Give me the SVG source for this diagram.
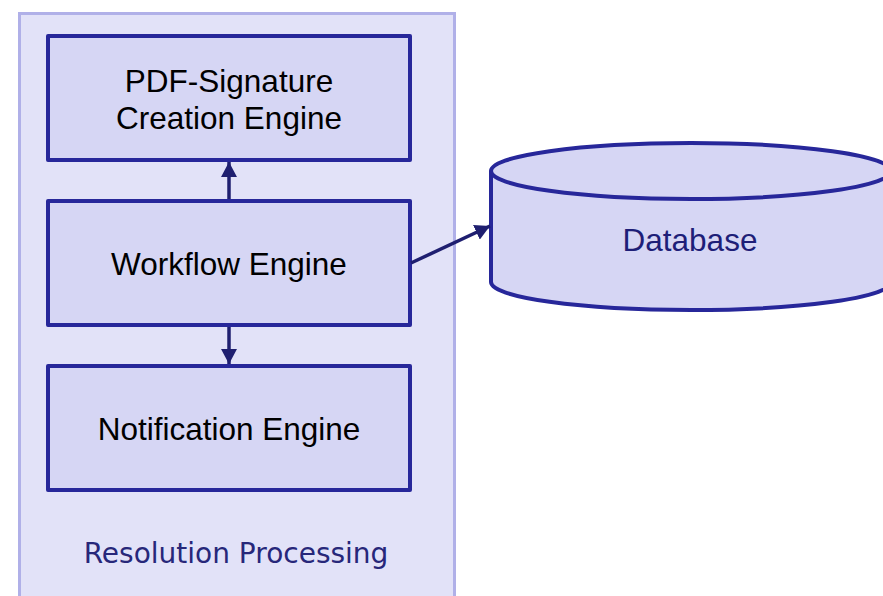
<svg xmlns="http://www.w3.org/2000/svg" width="883" height="596" viewBox="0 0 883 596">
<style>
.box{fill:#d6d6f4;stroke:#27279a;stroke-width:4;stroke-linejoin:round}
.t{font-family:"Liberation Sans",Arial,sans-serif;font-size:31.5px;fill:#000;text-anchor:middle}
.conn{stroke:#1f1f70;stroke-width:3.5;fill:none}
</style>
<defs>
<marker id="ah" markerWidth="15" markerHeight="16" refX="15" refY="8" orient="auto" markerUnits="userSpaceOnUse">
<path d="M0,0 L15,8 L0,16 z" fill="#1f1f70"/>
</marker>
</defs>
<rect width="883" height="596" fill="#fff"/>
<g id="container">
<rect x="19.5" y="13.5" width="435" height="600" fill="#e2e2f8" stroke="#b0b0e8" stroke-width="3"/>
<text x="236" y="563" font-family="'DejaVu Sans',Verdana,sans-serif" font-size="28" fill="#27277a" text-anchor="middle">Resolution Processing</text>
</g>
<g id="pdf">
<rect class="box" x="48" y="36" width="362" height="124"/>
<text class="t" x="229" y="92">PDF-Signature</text>
<text class="t" x="229" y="129">Creation Engine</text>
</g>
<g id="workflow">
<rect class="box" x="48" y="201" width="362" height="124"/>
<text class="t" x="229" y="275">Workflow Engine</text>
</g>
<g id="notification">
<rect class="box" x="48" y="366" width="362" height="124"/>
<text class="t" x="229" y="440">Notification Engine</text>
</g>
<g id="database">
<path d="M491,171 L491,282 A200,28 0 0 0 891,282 L891,171 A200,28 0 0 0 491,171 Z" fill="#d6d6f4" stroke="#27279a" stroke-width="4"/>
<path d="M491,171 A200,28 0 0 0 891,171" fill="none" stroke="#27279a" stroke-width="4"/>
<text x="690" y="251" font-family="'Liberation Sans',Arial,sans-serif" font-size="31.5" fill="#1e1e78" text-anchor="middle">Database</text>
</g>
<g id="connectors">
<line class="conn" x1="229" y1="199" x2="229" y2="162" marker-end="url(#ah)"/>
<line class="conn" x1="229" y1="327" x2="229" y2="364" marker-end="url(#ah)"/>
<line class="conn" x1="411" y1="263" x2="490" y2="226" marker-end="url(#ah)"/>
</g>
</svg>
